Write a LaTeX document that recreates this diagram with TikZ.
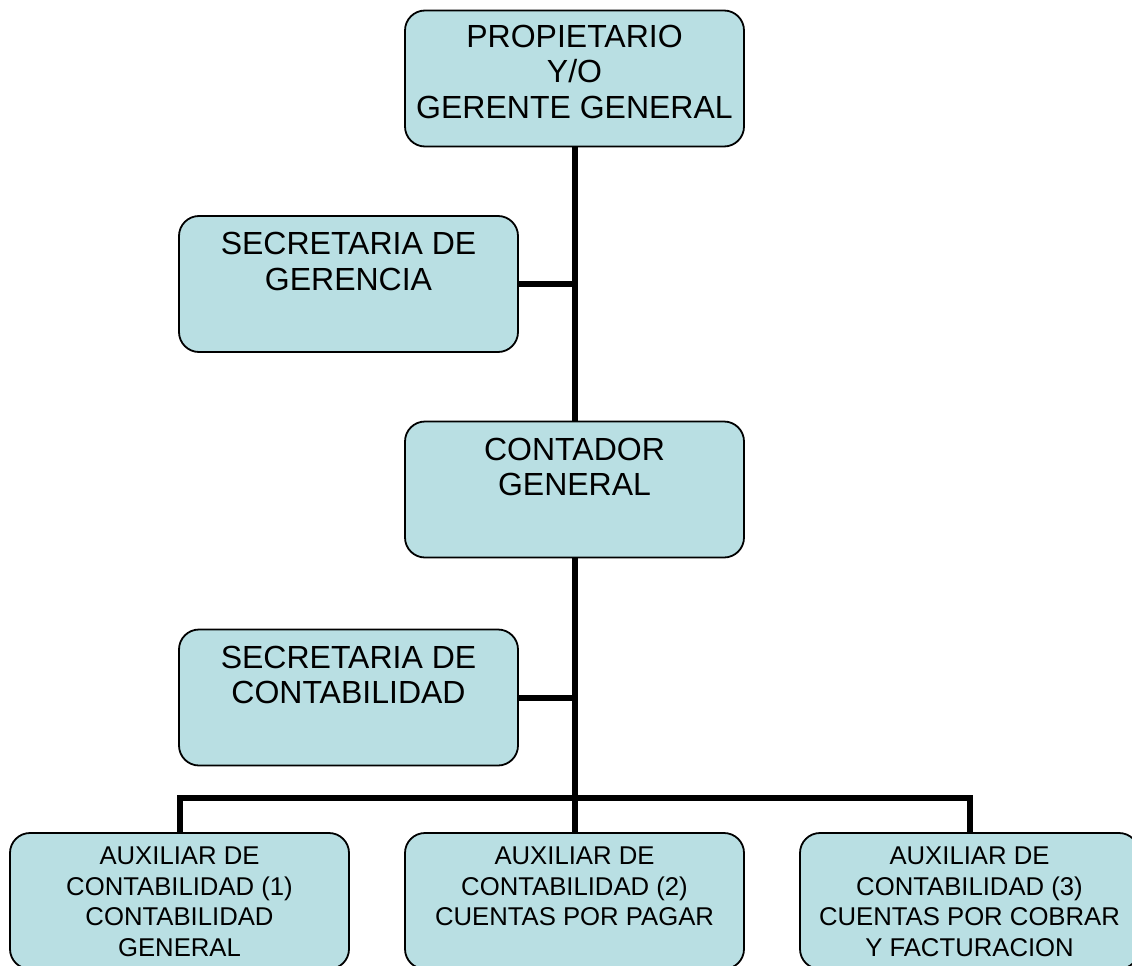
\documentclass[tikz,border=0pt]{standalone}
\usepackage{fontspec}
\setmainfont{Liberation Sans}
\definecolor{cajafondo}{RGB}{185,223,227}

\begin{document}
\begin{tikzpicture}[x=1pt,y=-1pt,
  caja/.style={draw,fill=cajafondo,line width=1.8pt,rounded corners=20pt,minimum width=339pt,minimum height=136pt,inner sep=0pt},
  texto/.style={anchor=north,align=center,inner sep=0pt,font=\fontsize{32}{35.5}\selectfont},
  textochico/.style={anchor=north,align=center,inner sep=0pt,font=\fontsize{25.7}{30.5}\selectfont},
  linea/.style={line width=6pt}]
  \useasboundingbox (0,0) rectangle (1132,966);
  \node[caja] (prop) at (574.5,78.5) {};
  \node[caja] (secger) at (348.5,284) {};
  \node[caja] (cont) at (574.5,489.5) {};
  \node[caja] (seccont) at (348.5,697.5) {};
  \node[caja] (aux1) at (179.5,901) {};
  \node[caja] (aux2) at (574.5,901) {};
  \node[caja] (aux3) at (969.5,901) {};
  \coordinate (bus) at (574.5,798);
  \draw[linea] (prop.south) -- (cont.north);
  \draw[linea] (secger.east) -- (secger.east -| prop.south);
  \draw[linea] (cont.south) -- (aux2.north);
  \draw[linea] (seccont.east) -- (seccont.east -| cont.south);
  \draw[linea] (aux1.north) |- (bus) -| (aux3.north);
  \node[texto] (tprop) at ([yshift=-15pt]prop.north) {PROPIETARIO\\Y/O\\GERENTE GENERAL};
  \node[texto] (tsecger) at ([yshift=-17pt]secger.north) {SECRETARIA DE\\GERENCIA};
  \node[texto] (tcont) at ([yshift=-17pt]cont.north) {CONTADOR\\GENERAL};
  \node[texto] (tseccont) at ([yshift=-17pt]seccont.north) {SECRETARIA DE\\CONTABILIDAD};
  \node[textochico] (taux1) at ([yshift=-15pt]aux1.north) {AUXILIAR DE\\CONTABILIDAD (1)\\CONTABILIDAD\\GENERAL};
  \node[textochico] (taux2) at ([yshift=-15pt]aux2.north) {AUXILIAR DE\\CONTABILIDAD (2)\\CUENTAS POR PAGAR};
  \node[textochico] (taux3) at ([yshift=-15pt]aux3.north) {AUXILIAR DE\\CONTABILIDAD (3)\\CUENTAS POR COBRAR\\Y FACTURACION};
\end{tikzpicture}
\end{document}
